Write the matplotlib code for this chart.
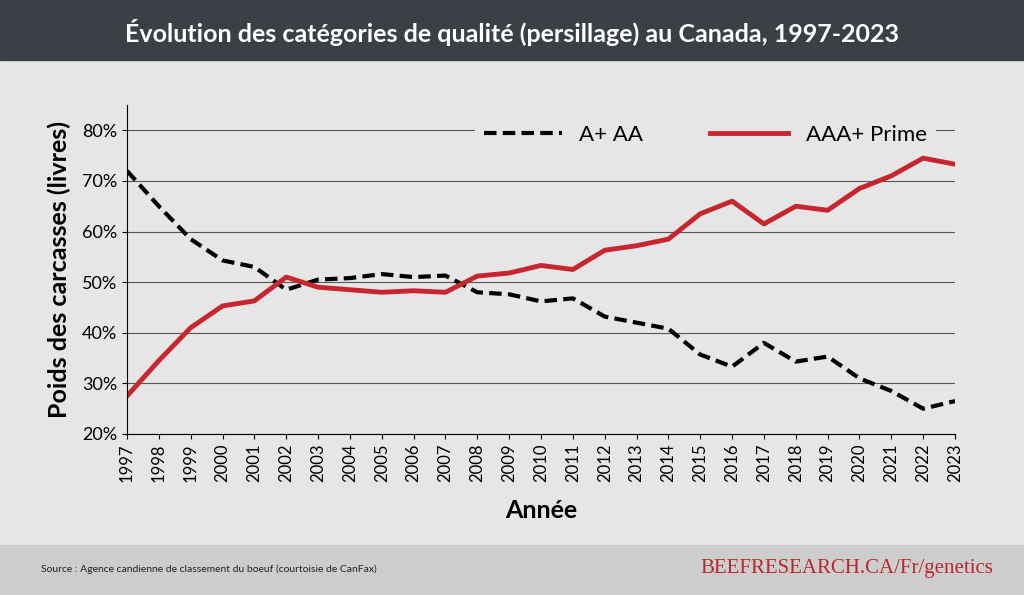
import matplotlib.pyplot as plt

years = list(range(1997, 2024))
a_aa = [72, 65, 58.5, 54.3, 53, 48.5, 50.5, 50.8, 51.6, 51, 51.3, 48, 47.6, 46.2, 46.8,
        43.2, 42, 40.8, 35.7, 33.3, 38, 34.3, 35.3, 31, 28.5, 25, 26.5]
aaa_prime = [27.5, 34.5, 41, 45.3, 46.3, 51, 49, 48.5, 48, 48.3, 48, 51.2, 51.8, 53.3, 52.5,
             56.3, 57.2, 58.5, 63.5, 66, 61.5, 65, 64.2, 68.5, 71, 74.5, 73.3]
yticks = [20, 30, 40, 50, 60, 70, 80]

plt.rcParams['font.family'] = ['Lato', 'DejaVu Sans']
fig = plt.figure(figsize=(10.24, 5.95), dpi=100, facecolor='#e6e6e6')

# header and footer bands
fig.patches.append(plt.Rectangle((0, 1 - 60/595), 1, 60/595, transform=fig.transFigure,
                                 color='#3b4047', zorder=0))
fig.patches.append(plt.Rectangle((0, 0), 1, 50/595, transform=fig.transFigure,
                                 color='#cdcdcd', zorder=0))
fig.text(0.5, 1 - 32/595, "Évolution des catégories de qualité (persillage) au Canada, 1997-2023",
         color='white', fontsize=18, fontweight='bold', ha='center', va='center')
fig.text(0.04, 26/595, "Source : Agence candienne de classement du boeuf (courtoisie de CanFax)",
         fontsize=7.5, va='center', color='#222222')
fig.text(0.97, 26/595, "BEEFRESEARCH.CA/Fr/genetics", family='Liberation Serif',
         fontsize=15, color='#b8282e', ha='right', va='center')

ax = fig.add_axes([127/1024, 1 - 434/595, (955 - 127)/1024, (434 - 105)/595])
ax.set_facecolor('#e6e6e6')
ax.plot(years, a_aa, color='black', lw=3, ls=(0, (3, 1.5)), label='A+ AA')
ax.plot(years, aaa_prime, color='#c8262e', lw=3.5, label='AAA+ Prime')
ax.set_xlim(1997, 2023)
ax.set_ylim(20, 85)
ax.set_yticks(yticks)
ax.set_yticklabels([f"{v}%" for v in yticks], fontsize=13)
ax.set_xticks(years)
ax.set_xticklabels([str(y) for y in years], rotation=90, fontsize=12)
ax.grid(axis='y', color='#555555', lw=0.8)
ax.set_axisbelow(True)
for s in ['top', 'right']:
    ax.spines[s].set_visible(False)
ax.set_ylabel('Poids des carcasses (livres)', fontsize=18, fontweight='bold', labelpad=8)
ax.set_xlabel('Année', fontsize=18, fontweight='bold', labelpad=12)
leg = ax.legend(loc='upper right', ncol=2, frameon=True, fontsize=16, handlelength=3.5,
                columnspacing=3, bbox_to_anchor=(0.99, 1.0))
leg.get_frame().set_facecolor('#e6e6e6')
leg.get_frame().set_edgecolor('none')
leg.get_frame().set_alpha(1)
fig.savefig('out.png', dpi=100, facecolor=fig.get_facecolor())
